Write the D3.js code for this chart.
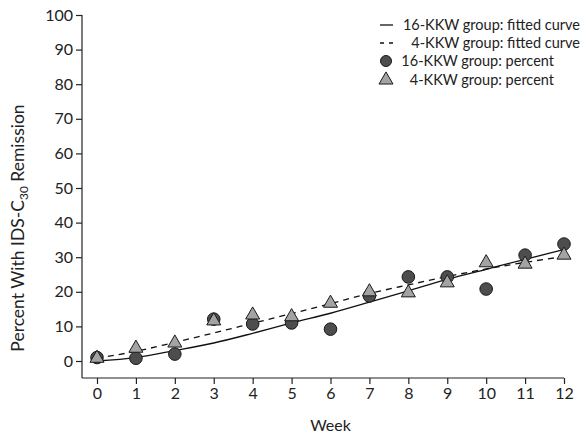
<!DOCTYPE html>
<html>
<head>
<meta charset="utf-8">
<style>
  body { margin: 0; background: #fff; }
  text { font-family: Lato, "Open Sans", sans-serif; fill: #222; }
</style>
<script src="https://cdn.jsdelivr.net/npm/d3@7/dist/d3.min.js"></script>
</head>
<body>
<svg width="586" height="440"></svg>
<script>
  var weeks = [0, 1, 2, 3, 4, 5, 6, 7, 8, 9, 10, 11, 12];
  var yTicks = [0, 10, 20, 30, 40, 50, 60, 70, 80, 90, 100];

  // observed percents
  var pct16 = [1.0, 0.8, 2.0, 12.1, 10.7, 11.0, 9.2, 18.8, 24.3, 24.3, 20.8, 30.6, 33.8];
  var pct4  = [0.8, 3.7, 5.2, 11.6, 13.3, 12.8, 16.7, 20.0, 19.7, 22.6, 28.4, 28.0, 30.6];

  // fitted curves read at each week
  var fit16 = [0, 1.0, 3.0, 5.2, 8.0, 11.0, 13.8, 17.0, 20.3, 23.6, 26.5, 29.4, 32.2];
  var fit4  = [0.8, 2.8, 5.4, 8.1, 10.9, 13.7, 16.6, 19.5, 22.0, 24.4, 26.6, 28.5, 30.2];

  var legendLabels = ["16-KKW group: fitted curve", "4-KKW group: fitted curve",
                      "16-KKW group: percent", "4-KKW group: percent"];

  var svg = d3.select("svg");

  var x = d3.scaleLinear().domain([0, 12]).range([97, 564]);
  var y = d3.scaleLinear().domain([0, 100]).range([361, 15]);
  var axisY = 378, axisX = 82;

  // y axis
  var gy = svg.append("g").attr("transform", "translate(" + axisX + ",0)")
    .call(d3.axisLeft(y).tickValues(yTicks).tickSize(6).tickPadding(3));
  gy.select(".domain").remove();
  svg.append("line").attr("x1", axisX).attr("x2", axisX).attr("y1", y(100)).attr("y2", axisY)
    .attr("stroke", "#222").attr("stroke-width", 1.2);

  // x axis
  var gx = svg.append("g").attr("transform", "translate(0," + axisY + ")")
    .call(d3.axisBottom(x).tickValues(weeks).tickSize(6).tickPadding(4));
  gx.select(".domain").remove();
  svg.append("line").attr("x1", axisX).attr("x2", x(12)).attr("y1", axisY).attr("y2", axisY)
    .attr("stroke", "#222").attr("stroke-width", 1.2);

  svg.selectAll(".tick line").attr("stroke", "#222").attr("stroke-width", 1.2);
  svg.selectAll(".tick text").style("font-size", "16px").attr("fill", "#222");

  // axis titles
  svg.append("text").attr("x", x(6)).attr("y", 431).attr("text-anchor", "middle")
    .style("font-size", "16px").text("Week");

  var yl = svg.append("text").attr("transform", "translate(24,228) rotate(-90)")
    .attr("text-anchor", "middle").style("font-size", "17.5px");
  yl.append("tspan").text("Percent With IDS-C");
  yl.append("tspan").attr("dy", 4).style("font-size", "12px").text("30");
  yl.append("tspan").attr("dy", -4).text(" Remission");

  // fitted curves
  var line = d3.line().curve(d3.curveMonotoneX)
    .x(function(d, i) { return x(weeks[i]); })
    .y(function(d) { return y(d); });

  svg.append("path").datum(fit16).attr("d", line)
    .attr("fill", "none").attr("stroke", "#111").attr("stroke-width", 1.3);
  svg.append("path").datum(fit4).attr("d", line)
    .attr("fill", "none").attr("stroke", "#111").attr("stroke-width", 1.3)
    .attr("stroke-dasharray", "6,5");

  var tri = d3.symbol().type(d3.symbolTriangle).size(85);

  // points
  svg.selectAll(".c16").data(pct16).enter().append("circle")
    .attr("cx", function(d, i) { return x(weeks[i]); })
    .attr("cy", function(d) { return y(d); })
    .attr("r", 6.3).attr("fill", "#4d4d4d").attr("stroke", "#1a1a1a").attr("stroke-width", 1);

  svg.selectAll(".t4").data(pct4).enter().append("path")
    .attr("d", tri)
    .attr("transform", function(d, i) { return "translate(" + x(weeks[i]) + "," + y(d) + ")"; })
    .attr("fill", "#a3a3a3").attr("stroke", "#1a1a1a").attr("stroke-width", 1);

  // legend
  var lg = svg.append("g");
  var rowY = [25, 43, 61, 80];
  var rowEnd = [580, 580, 554, 554];
  legendLabels.forEach(function(t, i) {
    lg.append("text").attr("x", rowEnd[i]).attr("y", rowY[i]).attr("dy", "0.35em")
      .attr("text-anchor", "end").style("font-size", "14.5px").text(t);
  });
  lg.append("line").attr("x1", 380).attr("x2", 393).attr("y1", rowY[0]).attr("y2", rowY[0])
    .attr("stroke", "#111").attr("stroke-width", 1.3);
  lg.append("line").attr("x1", 380).attr("x2", 394).attr("y1", rowY[1]).attr("y2", rowY[1])
    .attr("stroke", "#111").attr("stroke-width", 1.3).attr("stroke-dasharray", "4,5");
  lg.append("circle").attr("cx", 386).attr("cy", rowY[2]).attr("r", 5.5)
    .attr("fill", "#4d4d4d").attr("stroke", "#1a1a1a");
  lg.append("path").attr("d", tri).attr("transform", "translate(386," + rowY[3] + ")")
    .attr("fill", "#a3a3a3").attr("stroke", "#1a1a1a");
</script>
</body>
</html>
